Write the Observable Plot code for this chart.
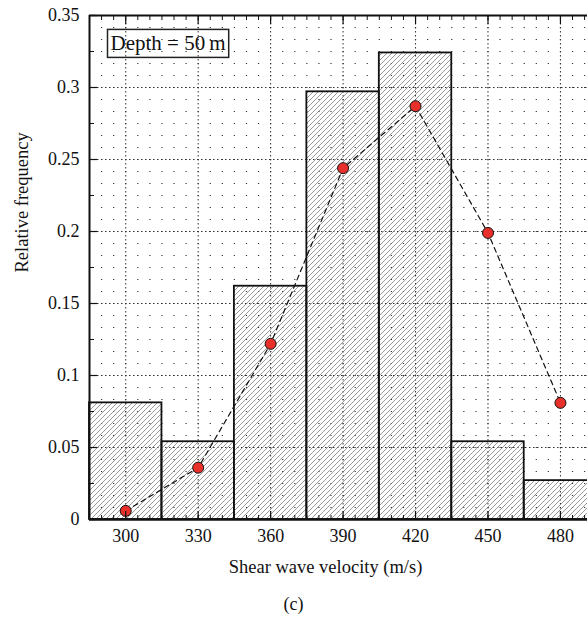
<!DOCTYPE html>
<html>
<head>
<meta charset="utf-8">
<script src="https://cdn.jsdelivr.net/npm/d3@7"></script>
<script src="https://cdn.jsdelivr.net/npm/@observablehq/plot@0.6"></script>
<style>
  body { margin: 0; background: #fff; }
  #chart { width: 587px; }
  #caption { width: 587px; text-align: center; font: 18px "Liberation Serif", serif; margin-top: 9px; line-height: 20px; color: #111; }
</style>
</head>
<body>
<div id="chart"></div>
<div id="caption">(c)</div>
<script>
// ---- data ----
const velocity = [300, 330, 360, 390, 420, 450, 480];       // bin centres (m/s)
const binWidth = 30;
const frequency = [0.081, 0.054, 0.162, 0.297, 0.324, 0.054, 0.027]; // histogram
const fitted = [0.006, 0.036, 0.122, 0.244, 0.287, 0.199, 0.081];    // fitted curve points
const xTicks = [300, 330, 360, 390, 420, 450, 480];
const yTicks = [0, 0.05, 0.1, 0.15, 0.2, 0.25, 0.3, 0.35];
const yTickLabels = ["0", "0.05", "0.1", "0.15", "0.2", "0.25", "0.3", "0.35"];
const xLabel = "Shear wave velocity (m/s)";
const yLabel = "Relative frequency";
const note = "Depth = 50\u2009m";

const xDomain = [285, 491.2];
const yDomain = [0, 0.35];

const bars = velocity.map((v, i) => ({lo: v - binWidth / 2, hi: v + binWidth / 2, f: frequency[i]}));
const pts = velocity.map((v, i) => ({v, f: fitted[i]}));
const minorX = d3.range(290, 491, 5);
const minorY = d3.range(0, 0.3501, 0.025);
const yFmt = d => yTickLabels[yTicks.findIndex(t => Math.abs(t - d) < 1e-9)];

const font = '"Liberation Serif", "DejaVu Serif", serif';

const plot = Plot.plot({
  width: 587,
  height: 585,
  marginLeft: 89,
  marginRight: 0,
  marginTop: 15,
  marginBottom: 66,
  style: {fontFamily: font, fontSize: "18px", color: "#111", background: "#fff"},
  x: {domain: xDomain},
  y: {domain: yDomain},
  marks: [
    // minor dot lattice
    Plot.ruleX(minorX, {stroke: "#333", strokeWidth: 1.2, strokeDasharray: "1,11"}),
    // major dotted grid
    Plot.gridX(xTicks, {stroke: "#333", strokeOpacity: 1, strokeWidth: 1, strokeDasharray: "1.5,2.5"}),
    Plot.gridY(yTicks, {stroke: "#333", strokeOpacity: 1, strokeWidth: 1, strokeDasharray: "1.5,2.5"}),
    // histogram bars
    Plot.rectY(bars, {x1: "lo", x2: "hi", y: "f", fill: "url(#hatch)", stroke: "#111", strokeWidth: 1.8}),
    // fitted dashed line + points
    Plot.line(pts, {x: "v", y: "f", stroke: "#111", strokeWidth: 1.2, strokeDasharray: "5,4"}),
    Plot.dot(pts, {x: "v", y: "f", r: 5.5, fill: "#e8302a", stroke: "#111", strokeWidth: 1}),
    // frame lines
    Plot.ruleX([xDomain[0]], {stroke: "#111", strokeWidth: 2}),
    Plot.ruleY([yDomain[1]], {stroke: "#111", strokeWidth: 1.8}),
    Plot.ruleY([0], {stroke: "#111", strokeWidth: 2.5}),
    // axes: bottom
    Plot.axisX(xTicks, {anchor: "bottom", tickSize: -8, tickPadding: 18, fontSize: 18, tickFormat: d => String(d), label: null, stroke: "#111", strokeWidth: 1.2}),
    Plot.axisX(minorX, {anchor: "bottom", tickSize: -4, tickFormat: () => "", label: null, stroke: "#111"}),
    // top
    Plot.axisX(xTicks, {anchor: "top", tickSize: -8, tickFormat: () => "", label: null, stroke: "#111", strokeWidth: 1.2}),
    Plot.axisX(minorX, {anchor: "top", tickSize: -4, tickFormat: () => "", label: null, stroke: "#111"}),
    // left
    Plot.axisY(yTicks, {anchor: "left", tickSize: -8, tickPadding: 18, fontSize: 18, tickFormat: yFmt, label: null, stroke: "#111", strokeWidth: 1.2}),
    Plot.axisY(minorY, {anchor: "left", tickSize: -5, tickFormat: () => "", label: null, stroke: "#111"}),
    // axis titles
    Plot.text([xLabel], {frameAnchor: "bottom", dx: -13, dy: 53, fontSize: 18.5, fill: "#111"}),
    Plot.text([yLabel], {frameAnchor: "left", rotate: -90, dx: -67, dy: 5, fontSize: 18.5, fill: "#111"}),
    // annotation
    Plot.text([note], {frameAnchor: "top-left", textAnchor: "start", dx: 21, dy: 20, fontSize: 21, fill: "#111", className: "note"})
  ]
});

// hatch pattern
const svg = d3.select(plot);
const defs = svg.insert("defs", ":first-child");
const pat = defs.append("pattern")
  .attr("id", "hatch").attr("patternUnits", "userSpaceOnUse")
  .attr("width", 5).attr("height", 5);
pat.append("path")
  .attr("d", "M-1,1 L1,-1 M0,5 L5,0 M4,6 L6,4")
  .attr("stroke", "#777").attr("stroke-width", 0.75);

document.getElementById("chart").appendChild(plot);

// box around annotation
const t = plot.querySelector(".note text");
if (t) {
  const bb = t.getBBox();
  d3.select(t.parentNode).insert("rect", "text")
    .attr("transform", t.getAttribute("transform"))
    .attr("x", bb.x - 3).attr("y", bb.y - 2)
    .attr("width", bb.width + 6).attr("height", bb.height + 4)
    .attr("fill", "none").attr("stroke", "#222").attr("stroke-width", 1.5);
}
</script>
</body>
</html>
